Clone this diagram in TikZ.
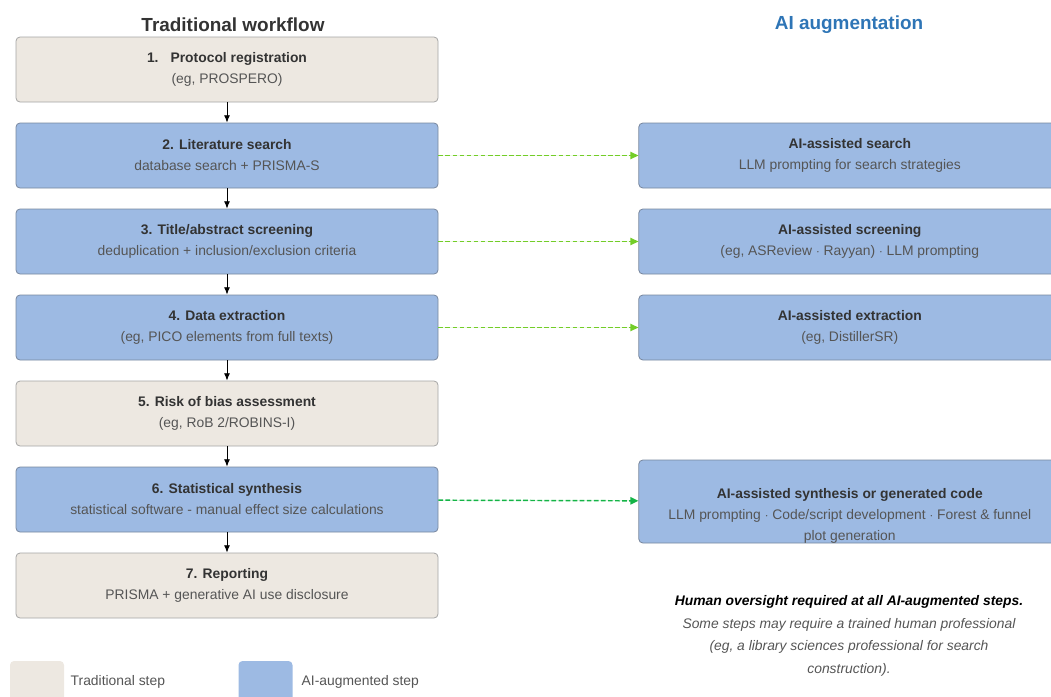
\documentclass[tikz,border=0pt]{standalone}
\usepackage{fontspec}
\setmainfont{Liberation Sans}
\usetikzlibrary{arrows.meta, positioning}

\definecolor{tradfill}{RGB}{237,232,225}
\definecolor{tradline}{RGB}{165,165,165}
\definecolor{aifill}{RGB}{157,186,227}
\definecolor{ailine}{RGB}{120,135,158}
\definecolor{titlegray}{RGB}{51,51,51}
\definecolor{subgray}{RGB}{85,85,85}
\definecolor{aiblue}{RGB}{46,117,182}
\definecolor{assistgreen}{RGB}{115,205,40}
\definecolor{synthgreen}{RGB}{20,180,70}

\newcommand{\stepbody}[2]{\textbf{#1}\\\color{subgray}#2}

\begin{document}
\begin{tikzpicture}[
    x=0.75pt, y=-0.75pt,
    node distance=64.5pt,
    stepbox/.style={draw, rectangle, rounded corners=3pt, minimum width=316.5pt, minimum height=48.75pt, align=center, line width=0.6pt, text=titlegray, font=\fontsize{10.4}{15.8}\selectfont},
    trad/.style={stepbox, fill=tradfill, draw=tradline},
    aug/.style={stepbox, fill=aifill, draw=ailine},
    legendbox/.style={rectangle, rounded corners=3pt, minimum width=40.5pt, minimum height=40.5pt},
    flow/.style={-{Latex[length=5.5pt,width=4.5pt]}, line width=0.7pt},
    assist/.style={-{Triangle[length=6pt,width=5.5pt]}, dash pattern=on 3.5pt off 1.8pt, line width=1.1pt}
]
\useasboundingbox (0,0) rectangle (1051,697);

% Column headers
\node[font=\bfseries\fontsize{14.2}{16}\selectfont, text=titlegray] (tradhead) at (233,24.5) {Traditional workflow};
\node[font=\bfseries\fontsize{14.2}{16}\selectfont, text=aiblue] (aihead) at (849,24.5) {AI augmentation};

% Traditional workflow
\node[trad] (protocol) at (227,69.5) {\stepbody{1.\hspace{9pt}Protocol registration}{(eg, PROSPERO)}};
\node[aug, below of=protocol] (search) {\stepbody{2. Literature search}{database search + PRISMA-S}};
\node[aug, below of=search] (screen) {\stepbody{3. Title/abstract screening}{deduplication + inclusion/exclusion criteria}};
\node[aug, below of=screen] (extract) {\stepbody{4. Data extraction}{(eg, PICO elements from full texts)}};
\node[trad, below of=extract] (bias) {\stepbody{5. Risk of bias assessment}{(eg, RoB 2/ROBINS-I)}};
\node[aug, below of=bias] (synth) {\stepbody{6. Statistical synthesis}{statistical software - manual effect size calculations}};
\node[trad, below of=synth] (report) {\stepbody{7. Reporting}{PRISMA + generative AI use disclosure}};

% AI augmentation
\node[aug, right=150pt of search] (aisearch) {\stepbody{AI-assisted search}{LLM prompting for search strategies}};
\node[aug, right=150pt of screen] (aiscreen) {\stepbody{AI-assisted screening}{(eg, ASReview $\cdot$ Rayyan) $\cdot$ LLM prompting}};
\node[aug, right=150pt of extract] (aiextract) {\stepbody{AI-assisted extraction}{(eg, DistillerSR)}};
\node[aug, right=150pt of synth, yshift=-1.5pt, minimum height=62.25pt] (aisynth) {};
\node[align=center, text=titlegray, font=\fontsize{10.4}{15.8}\selectfont] (aisynthtxt) at ([yshift=-11pt]aisynth.center)
    {\textbf{AI-assisted synthesis or generated code}\\
     \color{subgray}LLM prompting $\cdot$ Code/script development $\cdot$ Forest \& funnel\\
     \color{subgray}plot generation};

% Arrows: workflow
\draw[flow] (protocol) -- (search);
\draw[flow] (search) -- (screen);
\draw[flow] (screen) -- (extract);
\draw[flow] (extract) -- (bias);
\draw[flow] (bias) -- (synth);
\draw[flow] (synth) -- (report);

% Arrows: augmentation
\draw[assist, draw=assistgreen, fill=assistgreen] (search) -- (aisearch);
\draw[assist, draw=assistgreen, fill=assistgreen] (screen) -- (aiscreen);
\draw[assist, draw=assistgreen, fill=assistgreen] (extract) -- (aiextract);
\draw[assist, draw=synthgreen, fill=synthgreen] (synth) -- (aisynth);

% Oversight note
\node[align=center, font=\itshape\fontsize{10.4}{17}\selectfont, text=subgray] (note) at (849,636)
    {\textbf{\color{black}Human oversight required at all AI-augmented steps.}\\
     Some steps may require a trained human professional\\
     (eg, a library sciences professional for search\\
     construction).};

% Legend
\node[legendbox, fill=tradfill] (legtrad) at (37,688) {};
\node[anchor=west, text=subgray, font=\fontsize{10.4}{12}\selectfont] (legtradtxt) at (66,682) {Traditional step};
\node[legendbox, fill=aifill] (legai) at (265.5,688) {};
\node[anchor=west, text=subgray, font=\fontsize{10.4}{12}\selectfont] (legaitxt) at (297,682) {AI-augmented step};

\end{tikzpicture}
\end{document}
